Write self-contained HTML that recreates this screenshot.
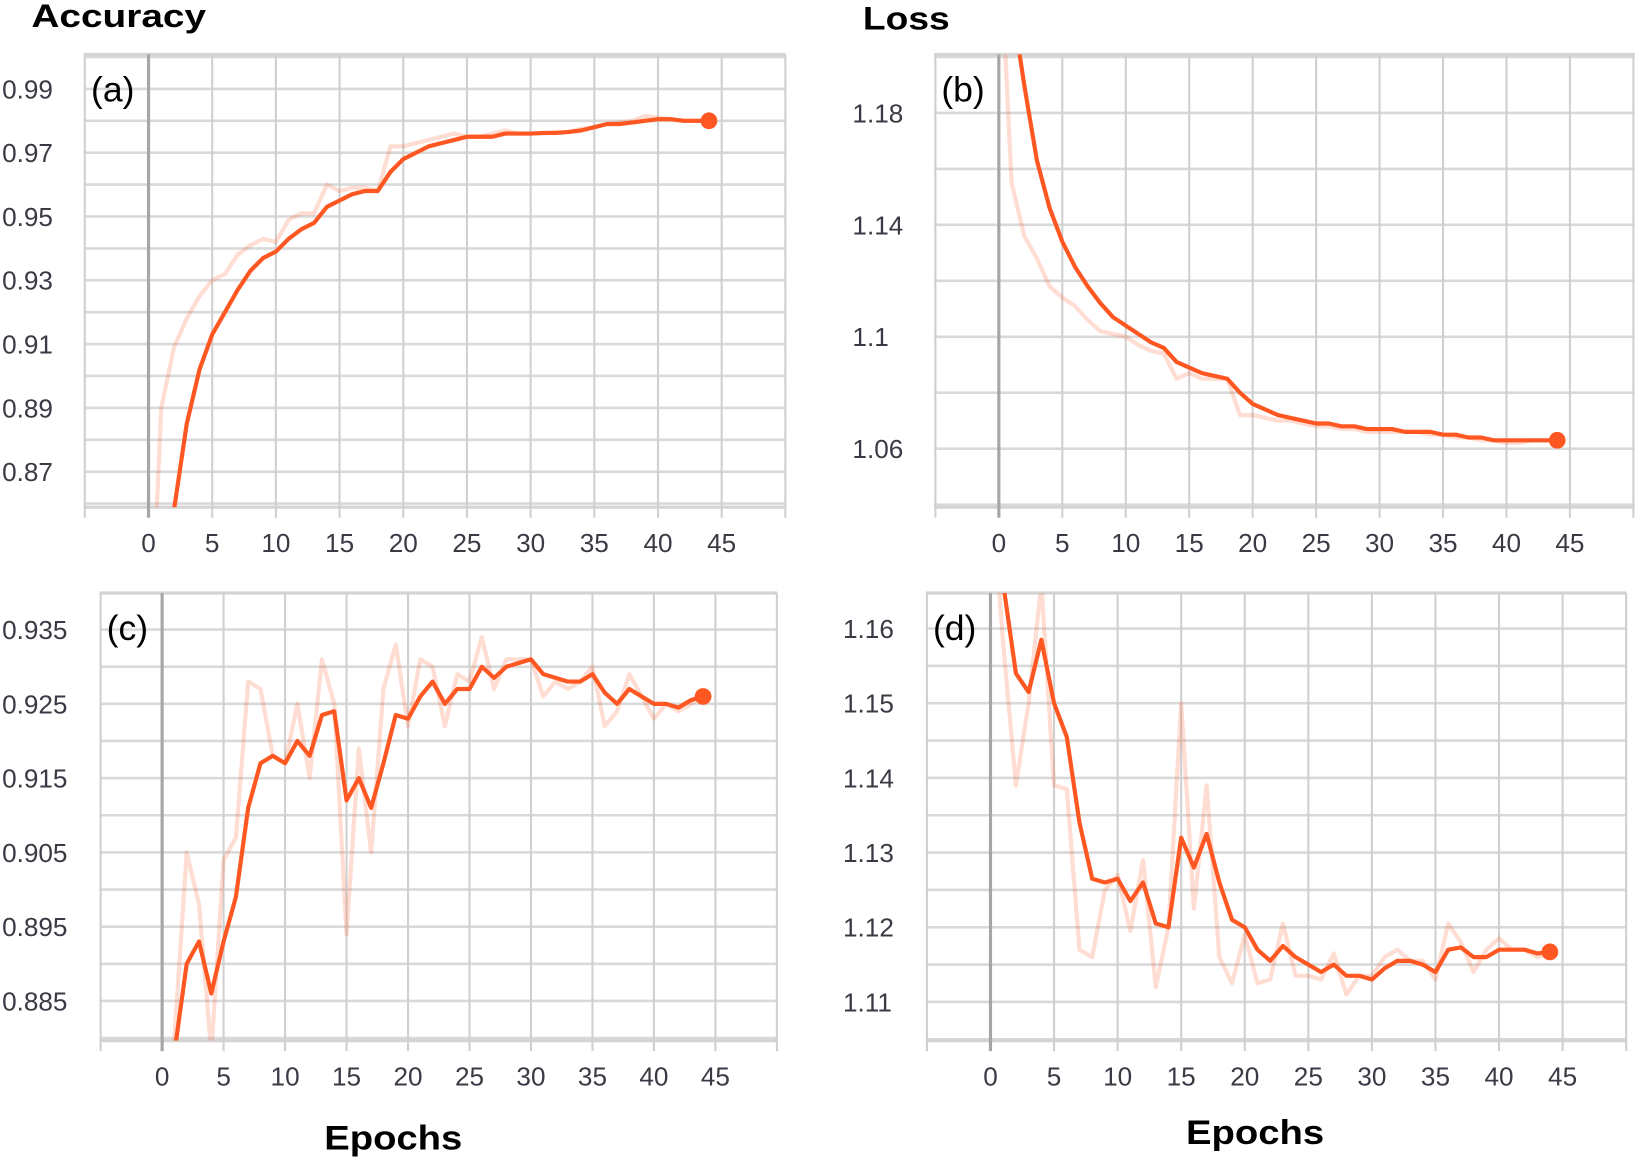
<!DOCTYPE html>
<html><head><meta charset="utf-8"><style>
html,body{margin:0;padding:0;background:#fff;}
svg{display:block;font-family:"Liberation Sans",sans-serif;}
</style></head><body>
<svg id="fig" width="1640" height="1163" viewBox="0 0 1568 1112" preserveAspectRatio="none" xmlns="http://www.w3.org/2000/svg">
<text x="30" y="26" font-size="31" font-weight="bold" fill="#000" textLength="167" lengthAdjust="spacingAndGlyphs">Accuracy</text>
<text x="825" y="28" font-size="31" font-weight="bold" fill="#000" textLength="83" lengthAdjust="spacingAndGlyphs">Loss</text>
<text x="310" y="1099" font-size="33" font-weight="bold" fill="#000" textLength="132" lengthAdjust="spacingAndGlyphs">Epochs</text>
<text x="1134" y="1094" font-size="33" font-weight="bold" fill="#000" textLength="132" lengthAdjust="spacingAndGlyphs">Epochs</text>
</svg>
<script>
const epochs = Array.from({length:45},(_,i)=>i);
const accTrainSmooth = [0.80,0.83,0.858,0.885,0.902,0.913,0.920,0.927,0.933,0.937,0.939,0.943,0.946,0.948,0.953,0.955,0.957,0.958,0.958,0.964,0.968,0.970,0.972,0.973,0.974,0.975,0.975,0.975,0.976,0.976,0.976,0.9762,0.9762,0.9765,0.977,0.978,0.979,0.979,0.9795,0.980,0.9805,0.9805,0.980,0.980,0.980];
const accTrainRaw = [0.80,0.89,0.909,0.918,0.925,0.930,0.932,0.938,0.941,0.943,0.942,0.949,0.951,0.951,0.960,0.958,0.959,0.959,0.958,0.972,0.972,0.973,0.974,0.975,0.976,0.975,0.975,0.976,0.977,0.976,0.976,0.976,0.9765,0.9765,0.9775,0.978,0.979,0.9795,0.980,0.9815,0.981,0.9805,0.980,0.980,0.980];
const lossTrainSmooth = [1.25,1.22,1.19,1.163,1.146,1.134,1.125,1.118,1.112,1.107,1.104,1.101,1.098,1.096,1.091,1.089,1.087,1.086,1.085,1.080,1.076,1.074,1.072,1.071,1.070,1.069,1.069,1.068,1.068,1.067,1.067,1.067,1.066,1.066,1.066,1.065,1.065,1.064,1.064,1.063,1.063,1.063,1.063,1.063,1.063];
const lossTrainRaw = [1.25,1.155,1.136,1.128,1.118,1.114,1.111,1.106,1.102,1.101,1.100,1.097,1.095,1.094,1.085,1.087,1.085,1.085,1.085,1.072,1.072,1.071,1.070,1.070,1.069,1.068,1.068,1.067,1.067,1.066,1.066,1.066,1.066,1.066,1.065,1.065,1.064,1.064,1.063,1.063,1.062,1.062,1.063,1.063,1.063];
const accValSmooth = [0.86,0.878,0.890,0.893,0.886,0.893,0.899,0.911,0.917,0.918,0.917,0.920,0.918,0.9235,0.924,0.912,0.915,0.911,0.917,0.9235,0.923,0.926,0.928,0.925,0.927,0.927,0.930,0.9285,0.930,0.9305,0.931,0.929,0.9285,0.928,0.928,0.929,0.9265,0.925,0.927,0.926,0.925,0.925,0.9245,0.9255,0.926];
const accValRaw = [0.86,0.880,0.905,0.898,0.878,0.904,0.907,0.928,0.927,0.918,0.917,0.925,0.915,0.931,0.925,0.894,0.919,0.905,0.927,0.933,0.922,0.931,0.930,0.922,0.929,0.928,0.934,0.927,0.931,0.931,0.931,0.926,0.928,0.927,0.928,0.930,0.922,0.924,0.929,0.926,0.923,0.925,0.924,0.925,0.926];
const lossValSmooth = [1.18,1.166,1.154,1.1515,1.1585,1.150,1.1455,1.134,1.1265,1.126,1.1265,1.1235,1.126,1.1205,1.120,1.132,1.128,1.1325,1.126,1.121,1.120,1.117,1.1155,1.1175,1.116,1.115,1.114,1.115,1.1135,1.1135,1.113,1.1145,1.1155,1.1155,1.115,1.114,1.117,1.1173,1.116,1.116,1.117,1.117,1.117,1.1165,1.1167];
const lossValRaw = [1.18,1.158,1.139,1.150,1.166,1.139,1.1385,1.117,1.116,1.125,1.127,1.1195,1.129,1.112,1.120,1.150,1.1225,1.139,1.116,1.1125,1.119,1.1125,1.113,1.1205,1.1135,1.1135,1.113,1.1165,1.111,1.1135,1.1135,1.116,1.117,1.1155,1.1155,1.113,1.1205,1.118,1.114,1.117,1.1185,1.117,1.117,1.116,1.1165];
const xTickLabels = ['0','5','10','15','20','25','30','35','40','45'];
const yTicksA = ['0.87','0.89','0.91','0.93','0.95','0.97','0.99'];
const yTicksB = ['1.06','1.1','1.14','1.18'];
const yTicksC = ['0.885','0.895','0.905','0.915','0.925','0.935'];
const yTicksD = ['1.11','1.12','1.13','1.14','1.15','1.16'];

const NS='http://www.w3.org/2000/svg';
const svg=document.getElementById('fig');
function mk(tag,attrs,parent){const e=document.createElementNS(NS,tag);for(const k in attrs)e.setAttribute(k,attrs[k]);(parent||svg).appendChild(e);return e;}

const panels=[
 {id:'a',left:80,right:751,top:52,bottom:485,x0:142,x45:690,yRef1:[0.99,85],yRef2:[0.87,451],grid:0.01,ticks:yTicksA,labelX:2,smooth:accTrainSmooth,raw:accTrainRaw,xlabY:528},
 {id:'b',left:893,right:1563,top:52,bottom:485,x0:955,x45:1501,yRef1:[1.18,108],yRef2:[1.06,429],grid:0.02,ticks:yTicksB,labelX:815,smooth:lossTrainSmooth,raw:lossTrainRaw,xlabY:528},
 {id:'c',left:95,right:743,top:567,bottom:995,x0:155,x45:684,yRef1:[0.935,602],yRef2:[0.885,957],grid:0.005,ticks:yTicksC,labelX:2,smooth:accValSmooth,raw:accValRaw,xlabY:1038},
 {id:'d',left:885,right:1555,top:567,bottom:995,x0:947,x45:1494,yRef1:[1.16,601],yRef2:[1.11,958],grid:0.005,ticks:yTicksD,labelX:806,smooth:lossValSmooth,raw:lossValRaw,xlabY:1038}
];

panels.forEach(p=>{
 const g=mk('g',{});
 
 
 const xs=v=>p.x0+(v/45)*(p.x45-p.x0);
 const ys=v=>p.yRef1[1]+(v-p.yRef1[0])*(p.yRef2[1]-p.yRef1[1])/(p.yRef2[0]-p.yRef1[0]);
 const yInv=px=>p.yRef1[0]+(px-p.yRef1[1])*(p.yRef2[0]-p.yRef1[0])/(p.yRef2[1]-p.yRef1[1]);
 const vTop=yInv(p.top), vBot=yInv(p.bottom);
 const lo=Math.min(vTop,vBot), hi=Math.max(vTop,vBot);
 const k0=Math.ceil(lo/p.grid-1e-6);
 for(let k=k0;k*p.grid<=hi+1e-9;k++){
  const y=ys(k*p.grid);
  const l=mk('line',{x1:p.left,x2:p.right,y1:y,y2:y,stroke:'#d9d9d9','stroke-width':2.5},g);
  
  
 }
 [p.top,p.bottom].forEach(y=>{const l=mk('line',{x1:p.left,x2:p.right,y1:y,y2:y,stroke:'#d4d4d4','stroke-width':3},g);
  
  });
 for(let e=-5;e<=50;e+=5){
  const x=xs(e);
  const l=mk('line',{x1:x,x2:x,y1:p.top,y2:p.bottom+10,stroke:e===0?'#a6a6a6':'#d0d0d0','stroke-width':e===0?3:2},g);
  
  
 }
 xTickLabels.forEach(t=>{
  const tx=mk('text',{x:xs(+t),y:p.xlabY,'font-size':25,fill:'#3a3a44','text-anchor':'middle'},g);
  tx.textContent=t;
  
  
 });
 p.ticks.forEach(t=>{
  const tx=mk('text',{x:p.labelX,y:ys(+t)+9,'font-size':25,fill:'#3a3a44'},g);
  tx.textContent=t;
  
  
 });
 const cp=mk('clipPath',{id:'clip'+p.id},g);
 mk('rect',{x:p.left,y:p.top,width:p.right-p.left,height:p.bottom-p.top},cp);
 const ptsRaw=p.raw.map((v,i)=>xs(epochs[i])+','+ys(v)).join(' ');
 const r=mk('polyline',{points:ptsRaw,fill:'none',stroke:'#ff5722','stroke-opacity':0.2,'stroke-width':4,'clip-path':'url(#clip'+p.id+')','stroke-linejoin':'round'},g);
 
 
 const ptsS=p.smooth.map((v,i)=>xs(epochs[i])+','+ys(v)).join(' ');
 const s=mk('polyline',{points:ptsS,fill:'none',stroke:'#ff5722','stroke-width':4,'clip-path':'url(#clip'+p.id+')','stroke-linejoin':'round'},g);
 
 
 const last=p.smooth.length-1;
 const c=mk('circle',{cx:xs(epochs[last]),cy:ys(p.smooth[last]),r:8,fill:'#ff5722'},g);
 
 
 const pl=mk('text',{x:p.left+7,y:p.top+45,'font-size':34,fill:'#000'},g);
 pl.textContent='('+p.id+')';
 
 
});
</script>
</body></html>
